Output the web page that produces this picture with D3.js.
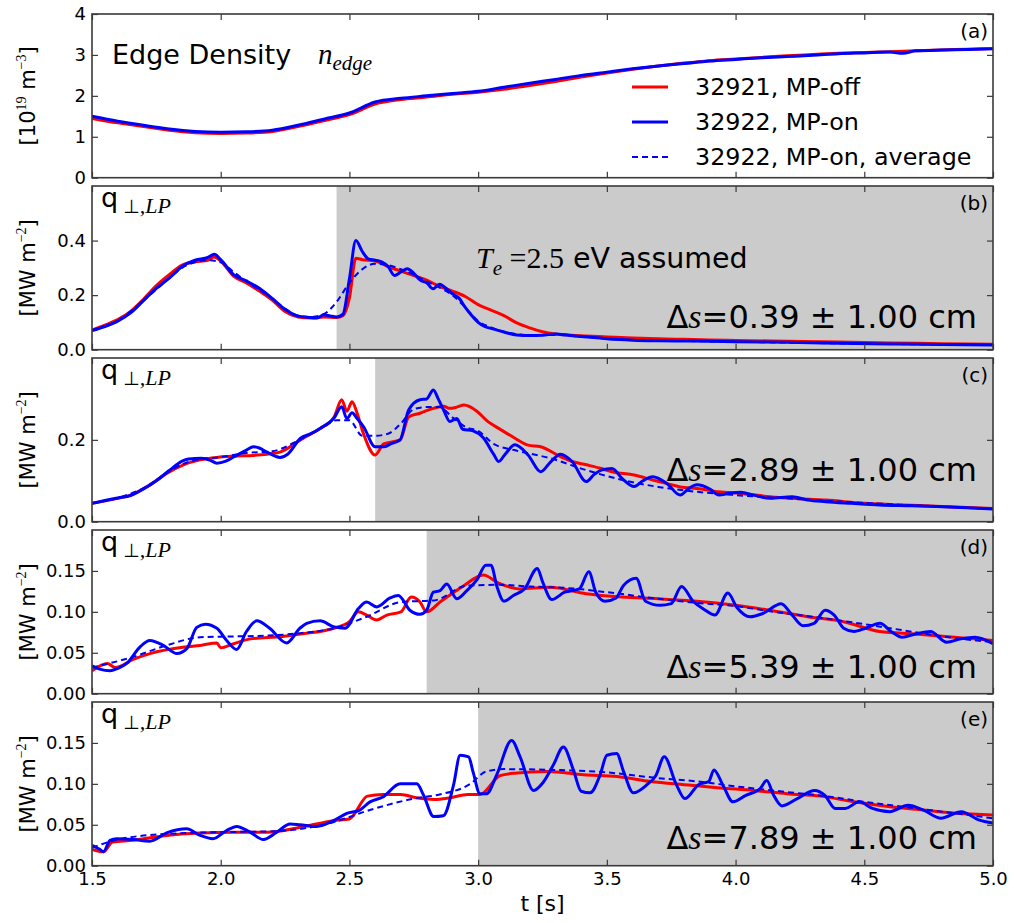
<!DOCTYPE html>
<html>
<head>
<meta charset="utf-8">
<script src="https://cdn.jsdelivr.net/npm/d3@7"></script>
<style>
  body { margin: 0; background: #fff; }
  svg { display: block; }
  text { font-family: "DejaVu Sans", sans-serif; fill: #000; }
</style>
</head>
<body>
<svg id="chart" width="1015" height="923"></svg>
<script>
// ---- time axis ----
const tDomain = [1.5, 5.0];
const tTicks = [1.5, 2.0, 2.5, 3.0, 3.5, 4.0, 4.5, 5.0];

// ---- (a) edge density [1e19 m^-3], pairs [t, value] ----
const aRed = [[1.5,1.45],[1.6,1.34],[1.7,1.25],[1.8,1.16],[1.9,1.10],[2.0,1.08],[2.1,1.09],[2.2,1.13],[2.3,1.25],[2.4,1.39],[2.5,1.54],[2.6,1.80],[2.7,1.91],[2.8,1.97],[2.9,2.04],[3.0,2.09],[3.1,2.16],[3.2,2.25],[3.3,2.35],[3.4,2.46],[3.5,2.56],[3.6,2.65],[3.7,2.73],[3.8,2.80],[3.9,2.86],[4.0,2.90],[4.1,2.94],[4.2,2.98],[4.3,3.01],[4.4,3.04],[4.5,3.06],[4.6,3.08],[4.7,3.10],[4.8,3.12],[4.9,3.14],[5.0,3.16]];
const aBlue = [[1.5,1.50],[1.6,1.38],[1.7,1.28],[1.8,1.19],[1.9,1.13],[2.0,1.11],[2.1,1.12],[2.2,1.16],[2.3,1.28],[2.4,1.43],[2.5,1.58],[2.6,1.85],[2.7,1.94],[2.8,2.00],[2.9,2.06],[3.0,2.11],[3.1,2.21],[3.2,2.31],[3.3,2.40],[3.4,2.50],[3.5,2.58],[3.6,2.66],[3.7,2.73],[3.8,2.79],[3.9,2.85],[4.0,2.89],[4.1,2.93],[4.2,2.96],[4.3,2.99],[4.4,3.03],[4.5,3.05],[4.6,3.07],[4.65,3.04],[4.7,3.10],[4.8,3.12],[4.9,3.13],[5.0,3.15]];

// ---- (b) q_perp, ds = 0.39 cm ----
const bRed = [[1.5,.072],[1.55,.090],[1.6,.110],[1.65,.140],[1.7,.185],[1.75,.235],[1.8,.275],[1.85,.310],[1.9,.322],[1.95,.328],[1.975,.340],[2.0,.325],[2.05,.270],[2.1,.245],[2.15,.215],[2.2,.182],[2.25,.140],[2.3,.120],[2.35,.116],[2.4,.120],[2.45,.118],[2.475,.125],[2.5,.190],[2.525,.335],[2.55,.330],[2.6,.325],[2.65,.305],[2.7,.288],[2.75,.272],[2.8,.255],[2.85,.232],[2.9,.215],[2.95,.195],[3.0,.165],[3.05,.145],[3.1,.125],[3.15,.098],[3.2,.080],[3.25,.066],[3.3,.058],[3.35,.054],[3.4,.051],[3.5,.047],[3.6,.043],[3.7,.040],[3.8,.038],[3.9,.036],[4.0,.034],[4.2,.031],[4.4,.028],[4.6,.025],[4.8,.022],[5.0,.020]];
const bBlue = [[1.5,.070],[1.55,.085],[1.6,.105],[1.65,.135],[1.7,.180],[1.75,.225],[1.8,.262],[1.85,.305],[1.9,.328],[1.95,.338],[1.975,.350],[2.0,.330],[2.05,.275],[2.1,.252],[2.15,.225],[2.2,.188],[2.25,.148],[2.3,.123],[2.35,.118],[2.375,.116],[2.4,.128],[2.425,.124],[2.45,.120],[2.475,.130],[2.5,.260],[2.525,.400],[2.55,.360],[2.575,.332],[2.6,.328],[2.625,.322],[2.65,.305],[2.675,.272],[2.7,.285],[2.725,.297],[2.75,.280],[2.775,.255],[2.8,.245],[2.825,.223],[2.85,.240],[2.875,.225],[2.9,.205],[2.925,.190],[2.95,.155],[2.975,.125],[3.0,.100],[3.025,.085],[3.05,.078],[3.1,.065],[3.15,.054],[3.2,.052],[3.25,.053],[3.3,.058],[3.35,.053],[3.4,.048],[3.45,.045],[3.5,.040],[3.55,.037],[3.6,.035],[3.7,.033],[3.8,.032],[3.9,.031],[4.0,.029],[4.2,.027],[4.4,.024],[4.6,.021],[4.8,.019],[5.0,.017]];
const bAvg = [[1.5,.070],[1.6,.107],[1.7,.180],[1.8,.262],[1.85,.300],[1.9,.320],[1.95,.328],[2.0,.320],[2.05,.285],[2.1,.250],[2.2,.188],[2.25,.150],[2.3,.125],[2.35,.120],[2.4,.130],[2.45,.175],[2.5,.245],[2.55,.295],[2.6,.315],[2.65,.310],[2.7,.295],[2.75,.275],[2.8,.250],[2.85,.228],[2.9,.200],[2.95,.155],[3.0,.105],[3.05,.082],[3.1,.066],[3.2,.054],[3.3,.054],[3.4,.048],[3.5,.041],[3.6,.036],[3.8,.032],[4.0,.029],[4.5,.022],[5.0,.017]];

// ---- (c) q_perp, ds = 2.89 cm ----
const cRed = [[1.5,.045],[1.6,.057],[1.65,.065],[1.725,.090],[1.79,.118],[1.855,.139],[1.92,.151],[1.985,.157],[2.05,.160],[2.127,.162],[2.18,.165],[2.23,.170],[2.31,.200],[2.386,.228],[2.44,.255],[2.47,.298],[2.49,.270],[2.51,.293],[2.53,.265],[2.554,.216],[2.6,.163],[2.633,.190],[2.697,.200],[2.73,.256],[2.774,.265],[2.826,.277],[2.866,.282],[2.89,.277],[2.917,.280],[2.945,.285],[2.995,.270],[3.037,.245],[3.08,.228],[3.143,.204],[3.194,.187],[3.243,.183],[3.32,.159],[3.365,.147],[3.42,.139],[3.478,.130],[3.52,.122],[3.606,.114],[3.678,.102],[3.734,.093],[3.785,.085],[3.85,.081],[3.935,.073],[4.02,.069],[4.134,.061],[4.22,.057],[4.35,.053],[4.5,.045],[4.65,.041],[4.8,.037],[5.0,.032]];
const cBlue = [[1.5,.045],[1.55,.052],[1.6,.058],[1.65,.064],[1.7,.080],[1.75,.100],[1.8,.125],[1.85,.148],[1.875,.153],[1.925,.155],[1.96,.150],[1.985,.143],[2.02,.148],[2.05,.158],[2.1,.175],[2.127,.183],[2.15,.180],[2.18,.170],[2.23,.157],[2.26,.165],[2.31,.204],[2.35,.215],[2.386,.228],[2.44,.253],[2.47,.281],[2.49,.252],[2.51,.266],[2.53,.252],[2.555,.232],[2.6,.183],[2.633,.183],[2.66,.190],[2.697,.200],[2.73,.273],[2.774,.298],[2.8,.300],[2.826,.322],[2.845,.300],[2.866,.273],[2.89,.245],[2.917,.252],[2.94,.226],[2.98,.222],[3.02,.205],[3.06,.165],[3.08,.147],[3.105,.165],[3.143,.188],[3.194,.163],[3.243,.122],[3.28,.145],[3.32,.165],[3.365,.147],[3.42,.098],[3.45,.115],[3.478,.126],[3.52,.130],[3.56,.105],[3.606,.086],[3.64,.100],[3.678,.110],[3.734,.093],[3.785,.065],[3.82,.082],[3.85,.090],[3.9,.080],[3.935,.065],[3.98,.070],[4.02,.072],[4.07,.065],[4.134,.057],[4.22,.061],[4.28,.053],[4.35,.049],[4.45,.045],[4.56,.041],[4.68,.039],[4.78,.037],[4.9,.034],[5.0,.031]];
const cAvg = [[1.5,.045],[1.6,.058],[1.7,.082],[1.8,.123],[1.85,.140],[1.9,.150],[2.0,.158],[2.1,.168],[2.2,.172],[2.3,.198],[2.4,.232],[2.45,.248],[2.5,.248],[2.55,.210],[2.6,.210],[2.65,.215],[2.7,.240],[2.75,.275],[2.8,.280],[2.85,.280],[2.9,.255],[2.956,.230],[3.0,.222],[3.06,.190],[3.14,.175],[3.28,.155],[3.42,.126],[3.56,.102],[3.7,.085],[3.85,.073],[4.0,.065],[4.2,.057],[4.5,.046],[4.8,.037],[5.0,.031]];

// ---- (d) q_perp, ds = 5.39 cm ----
const dRed = [[1.5,.028],[1.56,.037],[1.59,.032],[1.66,.042],[1.725,.049],[1.86,.057],[1.92,.059],[1.985,.062],[2.0,.056],[2.05,.061],[2.115,.067],[2.24,.070],[2.31,.073],[2.44,.080],[2.5,.088],[2.535,.100],[2.567,.096],[2.606,.090],[2.645,.096],[2.7,.100],[2.74,.118],[2.774,.112],[2.8,.100],[2.852,.112],[2.94,.131],[3.02,.145],[3.08,.135],[3.16,.128],[3.28,.130],[3.42,.122],[3.56,.118],[3.7,.116],[3.85,.113],[4.0,.108],[4.13,.102],[4.28,.094],[4.42,.088],[4.56,.076],[4.7,.073],[4.85,.069],[5.0,.065]];
const dBlue = [[1.5,.034],[1.53,.030],[1.57,.028],[1.6,.031],[1.635,.037],[1.686,.057],[1.725,.065],[1.777,.059],[1.83,.049],[1.868,.055],[1.907,.081],[1.94,.085],[1.985,.080],[2.023,.065],[2.062,.054],[2.1,.076],[2.14,.089],[2.19,.080],[2.256,.062],[2.308,.080],[2.334,.086],[2.386,.089],[2.437,.082],[2.483,.080],[2.535,.104],[2.567,.112],[2.606,.106],[2.658,.117],[2.69,.120],[2.735,.102],[2.774,.097],[2.8,.102],[2.826,.124],[2.852,.126],[2.878,.134],[2.917,.116],[2.956,.126],[2.995,.139],[3.03,.157],[3.05,.157],[3.073,.131],[3.1,.113],[3.137,.120],[3.18,.128],[3.23,.153],[3.25,.137],[3.286,.115],[3.336,.124],[3.393,.128],[3.43,.149],[3.457,.124],[3.493,.113],[3.536,.117],[3.564,.132],[3.614,.141],[3.65,.113],[3.707,.108],[3.75,.110],[3.79,.131],[3.835,.113],[3.878,.103],[3.92,.096],[3.97,.123],[4.006,.105],[4.056,.094],[4.106,.098],[4.177,.110],[4.22,.096],[4.262,.083],[4.305,.086],[4.348,.102],[4.383,.096],[4.42,.080],[4.46,.076],[4.505,.080],[4.561,.086],[4.604,.076],[4.647,.069],[4.7,.073],[4.757,.076],[4.82,.063],[4.875,.067],[4.93,.069],[5.0,.061]];
const dAvg = [[1.5,.032],[1.66,.045],[1.79,.059],[1.92,.069],[2.05,.070],[2.18,.071],[2.31,.074],[2.44,.080],[2.567,.094],[2.7,.112],[2.83,.114],[2.956,.132],[3.08,.133],[3.2,.131],[3.35,.129],[3.5,.124],[3.7,.116],[3.85,.111],[4.0,.107],[4.15,.100],[4.3,.094],[4.5,.085],[4.7,.075],[4.85,.068],[5.0,.063]];

// ---- (e) q_perp, ds = 7.89 cm ----
const eRed = [[1.5,.020],[1.544,.017],[1.58,.029],[1.66,.031],[1.79,.037],[1.92,.040],[2.05,.041],[2.18,.041],[2.31,.047],[2.44,.055],[2.5,.057],[2.57,.085],[2.63,.087],[2.7,.087],[2.76,.083],[2.83,.081],[2.89,.083],[2.96,.087],[3.007,.087],[3.085,.110],[3.14,.113],[3.27,.115],[3.41,.111],[3.54,.109],[3.67,.103],[3.8,.099],[3.94,.095],[4.07,.092],[4.2,.088],[4.33,.085],[4.46,.078],[4.6,.072],[4.73,.068],[4.86,.064],[5.0,.062]];
const eBlue = [[1.5,.025],[1.53,.020],[1.544,.017],[1.57,.031],[1.596,.033],[1.66,.032],[1.725,.030],[1.79,.040],[1.868,.045],[1.92,.037],[1.97,.033],[2.023,.043],[2.062,.048],[2.114,.041],[2.166,.032],[2.218,.041],[2.27,.051],[2.308,.050],[2.373,.048],[2.438,.055],[2.49,.064],[2.54,.068],[2.58,.078],[2.63,.084],[2.697,.100],[2.762,.100],[2.788,.086],[2.827,.060],[2.865,.061],[2.904,.098],[2.93,.135],[2.963,.133],[2.98,.115],[3.007,.088],[3.033,.088],[3.072,.111],[3.13,.153],[3.163,.133],[3.215,.092],[3.253,.102],[3.292,.123],[3.331,.145],[3.37,.117],[3.4,.091],[3.435,.089],[3.474,.111],[3.5,.135],[3.538,.137],[3.565,.115],[3.603,.089],[3.656,.099],[3.69,.110],[3.723,.133],[3.77,.099],[3.803,.082],[3.856,.099],[3.896,.103],[3.916,.117],[3.95,.099],[3.99,.078],[4.04,.086],[4.095,.094],[4.121,.104],[4.148,.086],[4.18,.073],[4.24,.082],[4.307,.092],[4.347,.086],[4.387,.070],[4.426,.070],[4.48,.078],[4.532,.070],[4.599,.066],[4.67,.074],[4.73,.068],[4.798,.058],[4.877,.066],[4.944,.056],[5.0,.052]];
const eAvg = [[1.5,.022],[1.6,.032],[1.8,.039],[2.0,.041],[2.2,.042],[2.4,.050],[2.6,.070],[2.75,.082],[2.85,.087],[2.97,.100],[3.03,.115],[3.1,.118],[3.3,.117],[3.5,.114],[3.7,.107],[3.85,.103],[4.0,.097],[4.2,.090],[4.35,.085],[4.5,.078],[4.65,.072],[4.8,.066],[5.0,.058]];

// ---- per-panel axis settings and annotations ----
const panelKeys = ["a", "b", "c", "d", "e"];
const yMax = [4, 0.6, 0.4, 0.2, 0.2];
const yTickValues = [[0,1,2,3,4], [0,0.2,0.4], [0,0.2], [0,0.05,0.10,0.15], [0,0.05,0.10,0.15]];
const yTickFormats = ["d", ".1f", ".1f", ".2f", ".2f"];
const shadeStart = [null, 2.45, 2.6, 2.8, 3.0];
const shiftValues = ["0.39", "2.89", "5.39", "7.89"];
const shiftError = "1.00";
const legendLabels = ["32921, MP-off", "32922, MP-on", "32922, MP-on, average"];

const redSeries = [aRed, bRed, cRed, dRed, eRed];
const blueSeries = [aBlue, bBlue, cBlue, dBlue, eBlue];
const avgSeries = [null, bAvg, cAvg, dAvg, eAvg];

// ---- layout ----
const svg = d3.select("#chart");
const L = 92, R = 993;
const tops = [14, 186, 358, 530, 702];
const PH = 163.7;
const frameColor = "#3a3a3a";
const RED = "#ff0000", BLUE = "#0000ff";
const shiftBaselineOffset = [null, 22, 41, 16, 17];

const x = d3.scaleLinear().domain(tDomain).range([L, R]);
const defs = svg.append("defs");
const serif = "'Liberation Serif', 'DejaVu Serif', serif";

function styleAxis(sel, showText) {
  sel.select(".domain").remove();
  sel.selectAll(".tick line").attr("stroke", frameColor).attr("stroke-width", 1.2);
  sel.selectAll(".tick text").style("font-size", "18px").attr("fill", "#000")
     .style("font-family", "'DejaVu Sans', sans-serif");
  if (!showText) sel.selectAll(".tick text").remove();
}

panelKeys.forEach((key, i) => {
  const top = tops[i], bottom = top + PH;
  const y = d3.scaleLinear().domain([0, yMax[i]]).range([bottom, top]);
  const g = svg.append("g").attr("class", "panel-" + key);

  defs.append("clipPath").attr("id", "clip-" + key)
    .append("rect").attr("x", L).attr("y", top).attr("width", R - L).attr("height", PH);

  // shaded interval
  if (shadeStart[i] !== null) {
    g.append("rect")
      .attr("x", x(shadeStart[i])).attr("y", top)
      .attr("width", x(tDomain[1]) - x(shadeStart[i])).attr("height", PH)
      .attr("fill", "#cbcbcb");
  }

  const line = d3.line().x(d => x(d[0])).y(d => y(d[1])).curve(d3.curveMonotoneX);
  const lg = g.append("g").attr("clip-path", `url(#clip-${key})`);
  lg.append("path").datum(redSeries[i]).attr("d", line)
    .attr("fill", "none").attr("stroke", RED).attr("stroke-width", 3).attr("stroke-linejoin", "round");
  lg.append("path").datum(blueSeries[i]).attr("d", line)
    .attr("fill", "none").attr("stroke", BLUE).attr("stroke-width", 3).attr("stroke-linejoin", "round");
  if (avgSeries[i]) {
    lg.append("path").datum(avgSeries[i]).attr("d", line)
      .attr("fill", "none").attr("stroke", BLUE).attr("stroke-width", 2).attr("stroke-dasharray", "6,4");
  }

  // ticks, all pointing inwards
  const fmt = d3.format(yTickFormats[i]);
  g.append("g").attr("transform", `translate(${L},0)`)
    .call(d3.axisLeft(y).tickValues(yTickValues[i]).tickFormat(fmt).tickSize(-6).tickPadding(6))
    .call(s => styleAxis(s, true));
  g.append("g").attr("transform", `translate(${R},0)`)
    .call(d3.axisRight(y).tickValues(yTickValues[i]).tickSize(-6))
    .call(s => styleAxis(s, false));
  g.append("g").attr("transform", `translate(0,${top})`)
    .call(d3.axisTop(x).tickValues(tTicks).tickSize(-6))
    .call(s => styleAxis(s, false));
  g.append("g").attr("transform", `translate(0,${bottom})`)
    .call(d3.axisBottom(x).tickValues(tTicks).tickFormat(d3.format(".1f")).tickSize(-6).tickPadding(7))
    .call(s => styleAxis(s, i === 4));

  // frame
  g.append("rect").attr("x", L).attr("y", top).attr("width", R - L).attr("height", PH)
    .attr("fill", "none").attr("stroke", frameColor).attr("stroke-width", 1.6);

  // panel letter
  g.append("text").attr("x", 988).attr("y", top + 24).attr("text-anchor", "end")
    .style("font-size", "20px").text(`(${key})`);

  // y-axis label (rotated)
  const yl = g.append("text")
    .attr("transform", `translate(35,${top + PH / 2}) rotate(-90)`)
    .attr("text-anchor", "middle").style("font-size", "21px");
  if (i === 0) {
    yl.append("tspan").text("[10");
    yl.append("tspan").text("19").attr("dy", -9).style("font-size", "14px").style("font-family", serif);
    yl.append("tspan").text(" m").attr("dy", 9);
    yl.append("tspan").text("\u22123").attr("dy", -9).style("font-size", "14px").style("font-family", serif);
    yl.append("tspan").text("]").attr("dy", 9);
  } else {
    yl.append("tspan").text("[MW m");
    yl.append("tspan").text("\u22122").attr("dy", -9).style("font-size", "14px").style("font-family", serif);
    yl.append("tspan").text("]").attr("dy", 9);
  }

  if (i === 0) {
    // title with math symbol
    g.append("text").attr("x", 112).attr("y", top + 50).style("font-size", "27px").text("Edge Density");
    const ne = g.append("text").attr("x", 318).attr("y", top + 50);
    ne.append("tspan").text("n").style("font-family", serif).style("font-style", "italic").style("font-size", "29px");
    ne.append("tspan").text("edge").attr("dy", 6).style("font-family", serif).style("font-style", "italic").style("font-size", "21px");

    // legend
    const rows = [73, 108, 143];
    const styles = [{c: RED, w: 3, d: null}, {c: BLUE, w: 3, d: null}, {c: BLUE, w: 2, d: "6,4"}];
    legendLabels.forEach((lab, k) => {
      const yy = top + rows[k];
      const ln = g.append("line").attr("x1", 632).attr("x2", 668).attr("y1", yy).attr("y2", yy)
        .attr("stroke", styles[k].c).attr("stroke-width", styles[k].w);
      if (styles[k].d) ln.attr("stroke-dasharray", styles[k].d);
      g.append("text").attr("x", 695).attr("y", yy + 8).style("font-size", "23.8px").text(lab);
    });
  } else {
    // q_perp,LP label
    const q = g.append("text").attr("x", 101).attr("y", top + 21);
    q.append("tspan").text("q").style("font-size", "27px");
    q.append("tspan").text("\u22a5").attr("dx", 5).attr("dy", 6).style("font-size", "19px");
    q.append("tspan").text(",LP").style("font-family", serif).style("font-style", "italic").style("font-size", "22px");

    // radial shift annotation
    const ds = g.append("text").attr("x", 977).attr("y", bottom - shiftBaselineOffset[i])
      .attr("text-anchor", "end").style("font-size", "32px");
    ds.append("tspan").text("\u0394");
    ds.append("tspan").text("s").style("font-family", serif).style("font-style", "italic").style("font-size", "34px");
    ds.append("tspan").text(`=${shiftValues[i - 1]} \u00b1 ${shiftError} cm`);

    if (i === 1) {
      const te = g.append("text").attr("x", 476).attr("y", top + 82);
      te.append("tspan").text("T").style("font-family", serif).style("font-style", "italic").style("font-size", "30px");
      te.append("tspan").text("e").attr("dy", 7).style("font-family", serif).style("font-style", "italic").style("font-size", "21px");
      te.append("tspan").text(" =2.5").attr("dy", -7).style("font-family", serif).style("font-size", "30px");
      te.append("tspan").text(" eV assumed").style("font-size", "28.5px");
    }
  }
});

// x-axis title
svg.append("text").attr("x", (L + R) / 2).attr("y", 911).attr("text-anchor", "middle")
  .style("font-size", "22px").text("t [s]");
</script>
</body>
</html>
